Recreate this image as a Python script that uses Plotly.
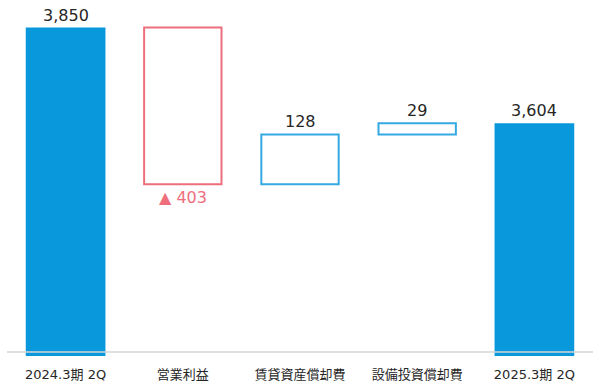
import plotly.graph_objects as go

# Bridge of the half-year figure: opening total, three movements, closing total
categories = ["2024.3期 2Q", "営業利益", "賃貸資産償却費", "設備投資償却費", "2025.3期 2Q"]
opening = 3850
changes = [-403, 128, 29]
closing = 3604

axis_min = 3005
px_per_unit = 95.6 / 246
plot_h = 356
axis_max = axis_min + plot_h / px_per_unit

BLUE = "#0898DB"
OUTLINE_BLUE = "#35A9E1"
OUTLINE_RED = "#EE6E7C"
TEXT = "#262626"
FONT = "DejaVu Sans, Noto Sans CJK JP, sans-serif"

# Running positions of the floating boxes
bases, heights = [], []
level = opening
for c in changes:
    lo = min(level, level + c)
    bases.append(lo)
    heights.append(abs(c))
    level += c

fig = go.Figure()

# Totals: solid bars from the axis floor
fig.add_trace(go.Bar(
    x=[categories[0], categories[-1]],
    y=[opening - axis_min, closing - axis_min],
    base=[axis_min, axis_min],
    width=0.68,
    marker=dict(color=BLUE, line=dict(width=0)),
    hoverinfo="skip",
))

# Movements: outlined boxes
line_colors = [OUTLINE_RED if c < 0 else OUTLINE_BLUE for c in changes]
fig.add_trace(go.Bar(
    x=categories[1:4],
    y=heights,
    base=bases,
    width=0.66,
    marker=dict(color="white", line=dict(color=line_colors, width=2)),
    hoverinfo="skip",
))

# Value labels
annotations = []
for cat, val in [(categories[0], opening), (categories[-1], closing)]:
    annotations.append(dict(x=cat, y=val, text=f"{val:,}", showarrow=False,
                            yanchor="bottom", yshift=1,
                            font=dict(size=16, color=TEXT, family=FONT)))
for cat, c, b, h in zip(categories[1:4], changes, bases, heights):
    if c < 0:
        annotations.append(dict(x=cat, y=b, text=f"▲ {abs(c):,}", showarrow=False,
                                yanchor="top", yshift=-2,
                                font=dict(size=16, color=OUTLINE_RED, family=FONT)))
    else:
        annotations.append(dict(x=cat, y=b + h, text=f"{c:,}", showarrow=False,
                                yanchor="bottom", yshift=1,
                                font=dict(size=16, color=TEXT, family=FONT)))

fig.update_layout(
    width=596, height=385,
    margin=dict(l=7, r=3, t=0, b=29),
    paper_bgcolor="white", plot_bgcolor="white",
    showlegend=False,
    barmode="overlay",
    annotations=annotations,
    shapes=[dict(type="line", xref="paper", yref="y domain", x0=0, x1=1,
                 y0=0.011, y1=0.011, line=dict(color="#D4D4D4", width=1.5),
                 layer="above")],
)
fig.update_xaxes(showgrid=False, showline=False, zeroline=False, ticks="",
                 categoryorder="array", categoryarray=categories,
                 tickfont=dict(size=13, color=TEXT, family=FONT),
                 ticklabelstandoff=9)
fig.update_yaxes(range=[axis_min, axis_max], visible=False, showgrid=False)

fig.write_html("out.html")
